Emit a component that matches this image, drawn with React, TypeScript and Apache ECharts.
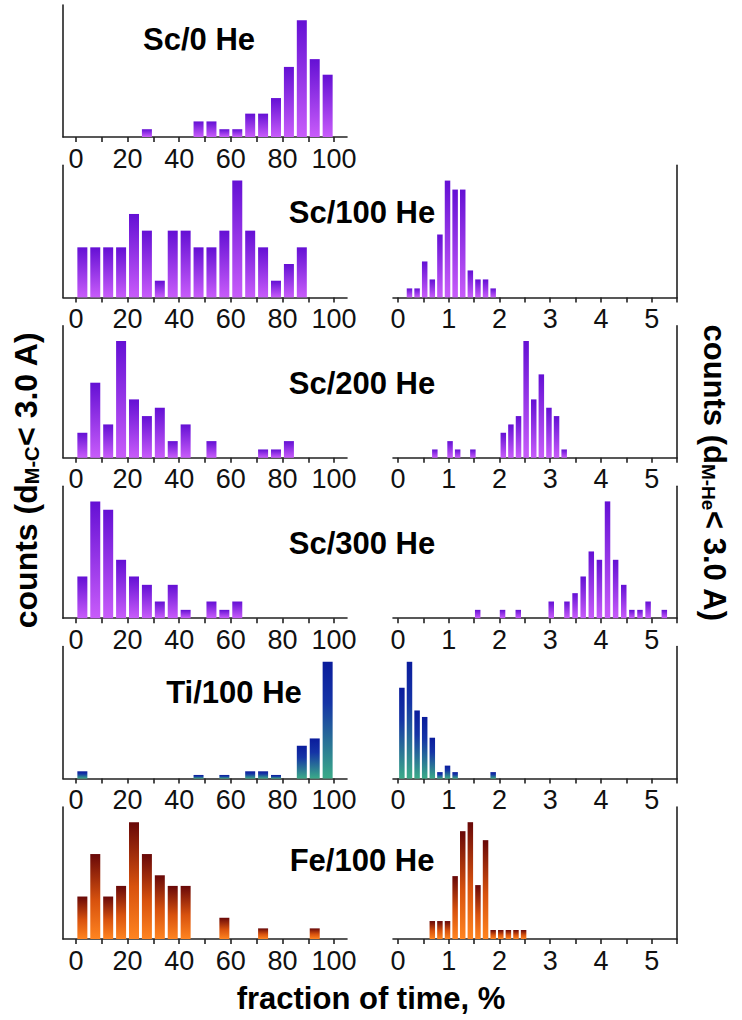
import React, { useEffect, useRef } from "react";
import * as echarts from "echarts";

// ---- data: left panels (fraction of time, %), bins of 5 ----
const sc0LeftX = [27.5, 47.5, 52.5, 57.5, 62.5, 67.5, 72.5, 77.5, 82.5, 87.5, 92.5, 97.5];
const sc0LeftY = [1, 2, 2, 1, 1, 3, 3, 5, 9, 15, 10, 8];

const sc100LeftX = [2.5, 7.5, 12.5, 17.5, 22.5, 27.5, 32.5, 37.5, 42.5, 47.5, 52.5, 57.5, 62.5, 67.5, 72.5, 77.5, 82.5, 87.5];
const sc100LeftY = [3, 3, 3, 3, 5, 4, 1, 4, 4, 3, 3, 4, 7, 4, 3, 1, 2, 3];
const sc100RightX = [0.225, 0.375, 0.525, 0.675, 0.825, 0.975, 1.125, 1.275, 1.425, 1.575, 1.725, 1.875];
const sc100RightY = [1, 1, 4, 2, 7, 13, 12, 12, 3, 2, 2, 1];

const sc200LeftX = [2.5, 7.5, 12.5, 17.5, 22.5, 27.5, 32.5, 37.5, 42.5, 52.5, 72.5, 77.5, 82.5];
const sc200LeftY = [3, 9, 4, 14, 7, 5, 6, 2, 4, 2, 1, 1, 2];
const sc200RightX = [0.725, 1.025, 1.175, 1.475, 2.075, 2.225, 2.375, 2.525, 2.675, 2.825, 2.975, 3.125, 3.275];
const sc200RightY = [1, 2, 1, 1, 3, 4, 5, 14, 7, 10, 6, 5, 1];

const sc300LeftX = [2.5, 7.5, 12.5, 17.5, 22.5, 27.5, 32.5, 37.5, 42.5, 52.5, 57.5, 62.5];
const sc300LeftY = [5, 14, 13, 7, 5, 4, 2, 4, 1, 2, 1, 2];
const sc300RightX = [1.57, 2.06, 2.37, 3.02, 3.33, 3.49, 3.65, 3.81, 3.97, 4.13, 4.29, 4.45, 4.61, 4.77, 4.93, 5.25];
const sc300RightY = [1, 1, 1, 2, 2, 3, 5, 8, 7, 14, 7, 4, 1, 1, 2, 1];

const ti100LeftX = [2.5, 47.5, 57.5, 67.5, 72.5, 77.5, 87.5, 92.5, 97.5];
const ti100LeftY = [2, 1, 1, 2, 2, 1, 9, 11, 32];
const ti100RightX = [0.075, 0.225, 0.375, 0.525, 0.675, 0.825, 0.975, 1.125, 1.875];
const ti100RightY = [14, 18, 10.5, 9.5, 6.3, 1, 2, 1, 1];

const fe100LeftX = [2.5, 7.5, 12.5, 17.5, 22.5, 27.5, 32.5, 37.5, 42.5, 57.5, 72.5, 92.5];
const fe100LeftY = [4, 8, 4, 5, 11, 8, 6, 5, 5, 2, 1, 1];
const fe100RightX = [0.675, 0.825, 0.975, 1.125, 1.275, 1.425, 1.575, 1.725, 1.875, 2.025, 2.175, 2.325, 2.475];
const fe100RightY = [2, 2, 2, 7, 12, 13, 6, 11, 1, 1, 1, 1, 1];

// ---- tick values ----
const leftTicks = [0, 10, 20, 30, 40, 50, 60, 70, 80, 90, 100];
const leftLabels = [0, 20, 40, 60, 80, 100];
const rightTicks = [0, 0.5, 1, 1.5, 2, 2.5, 3, 3.5, 4, 4.5, 5, 5.5];
const rightLabels = [0, 1, 2, 3, 4, 5];

const titles = ["Sc/0 He", "Sc/100 He", "Sc/200 He", "Sc/300 He", "Ti/100 He", "Fe/100 He"];

const FONT = "'Liberation Sans', Arial, Helvetica, sans-serif";

const purple = () =>
  new echarts.graphic.LinearGradient(0, 0, 0, 1, [
    { offset: 0, color: "#6410d4" },
    { offset: 1, color: "#c85cfa" },
  ]);
const blue = () =>
  new echarts.graphic.LinearGradient(0, 0, 0, 1, [
    { offset: 0, color: "#0a1c9c" },
    { offset: 0.35, color: "#1534a6" },
    { offset: 1, color: "#3bab88" },
  ]);
const orange = () =>
  new echarts.graphic.LinearGradient(0, 0, 0, 1, [
    { offset: 0, color: "#680808" },
    { offset: 0.55, color: "#d8520e" },
    { offset: 1, color: "#ff8420" },
  ]);

type Panel = { row: number; side: "L" | "R"; x: number[]; y: number[]; color: () => any };

const panels: Panel[] = [
  { row: 0, side: "L", x: sc0LeftX, y: sc0LeftY, color: purple },
  { row: 1, side: "L", x: sc100LeftX, y: sc100LeftY, color: purple },
  { row: 1, side: "R", x: sc100RightX, y: sc100RightY, color: purple },
  { row: 2, side: "L", x: sc200LeftX, y: sc200LeftY, color: purple },
  { row: 2, side: "R", x: sc200RightX, y: sc200RightY, color: purple },
  { row: 3, side: "L", x: sc300LeftX, y: sc300LeftY, color: purple },
  { row: 3, side: "R", x: sc300RightX, y: sc300RightY, color: purple },
  { row: 4, side: "L", x: ti100LeftX, y: ti100LeftY, color: blue },
  { row: 4, side: "R", x: ti100RightX, y: ti100RightY, color: blue },
  { row: 5, side: "L", x: fe100LeftX, y: fe100LeftY, color: orange },
  { row: 5, side: "R", x: fe100RightX, y: fe100RightY, color: orange },
];

const titlePos = [
  [199, 39],
  [362, 212],
  [362, 383],
  [362, 543],
  [234, 692],
  [362, 860],
];

export default function App() {
  const ref = useRef<HTMLDivElement>(null);
  useEffect(() => {
    if (!ref.current) return;
    const chart = echarts.init(ref.current, undefined, { renderer: "svg" });
    const lineStyle = { color: "#222", width: 1.6 };
    const grids: any[] = [];
    const xAxes: any[] = [];
    const yAxes: any[] = [];
    const series: any[] = [];
    panels.forEach((p, i) => {
      const top = 5 + p.row * 160.4;
      const isL = p.side === "L";
      grids.push({ left: isL ? 63 : 393, top, width: 284, height: 132 });
      xAxes.push({
        gridIndex: i,
        type: "value",
        min: isL ? -5 : -0.1,
        max: isL ? 105 : 5.5,
        axisLine: { show: true, onZero: false, lineStyle },
        axisTick: { show: true, length: 5, lineStyle, customValues: isL ? leftTicks : rightTicks },
        axisLabel: {
          show: true,
          customValues: isL ? leftLabels : rightLabels,
          color: "#111",
          fontSize: 27,
          fontFamily: FONT,
          margin: 8,
        },
        splitLine: { show: false },
      });
      const maxV = Math.max(...p.y);
      yAxes.push({
        gridIndex: i,
        type: "value",
        min: 0,
        max: maxV * 1.13,
        position: isL ? "left" : "right",
        axisLine: { show: true, onZero: false, lineStyle },
        axisTick: { show: false },
        axisLabel: { show: false },
        splitLine: { show: false },
      });
      series.push({
        type: "bar",
        xAxisIndex: i,
        yAxisIndex: i,
        barWidth: isL ? 10 : 5.5,
        data: p.x.map((x, k) => [x, p.y[k]]),
        itemStyle: { color: p.color() },
        silent: true,
      });
    });

    const graphics: any[] = titles.map((t, i) => ({
      type: "text",
      x: titlePos[i][0],
      y: titlePos[i][1],
      style: {
        text: t,
        fontSize: 31,
        fontWeight: "bold",
        fontFamily: FONT,
        fill: "#000",
        align: "center",
        verticalAlign: "middle",
      },
    }));
    graphics.push({
      type: "text",
      x: 371,
      y: 998,
      style: {
        text: "fraction of time, %",
        fontSize: 31,
        fontWeight: "bold",
        fontFamily: FONT,
        fill: "#000",
        align: "center",
        verticalAlign: "middle",
      },
    });
    const richL = {
      m: { fontSize: 32, fontWeight: "bold", fontFamily: FONT, fill: "#000", lineHeight: 36, verticalAlign: "bottom" },
      s: { fontSize: 20, fontWeight: "bold", fontFamily: FONT, fill: "#000", lineHeight: 14, verticalAlign: "bottom" },
    };
    const richR = {
      m: { fontSize: 31, fontWeight: "bold", fontFamily: FONT, fill: "#000", lineHeight: 36, verticalAlign: "bottom" },
      s: { fontSize: 19, fontWeight: "bold", fontFamily: FONT, fill: "#000", lineHeight: 14, verticalAlign: "bottom" },
    };
    graphics.push({
      type: "text",
      x: 24,
      y: 480,
      rotation: Math.PI / 2,
      style: {
        text: "{m|counts (d}{s|M-C}{m|< 3.0 A)}",
        rich: richL,
        align: "center",
        verticalAlign: "middle",
      },
    });
    graphics.push({
      type: "text",
      x: 717,
      y: 473,
      rotation: -Math.PI / 2,
      style: {
        text: "{m|counts (d}{s|M-He}{m|< 3.0 A)}",
        rich: richR,
        align: "center",
        verticalAlign: "middle",
      },
    });

    chart.setOption({
      animation: false,
      backgroundColor: "#fff",
      grid: grids,
      xAxis: xAxes,
      yAxis: yAxes,
      series,
      graphic: graphics,
    });
    return () => chart.dispose();
  }, []);
  return (
    <div
      ref={ref}
      style={{ position: "fixed", left: 0, top: 0, width: 742, height: 1020, background: "#fff" }}
    />
  );
}
